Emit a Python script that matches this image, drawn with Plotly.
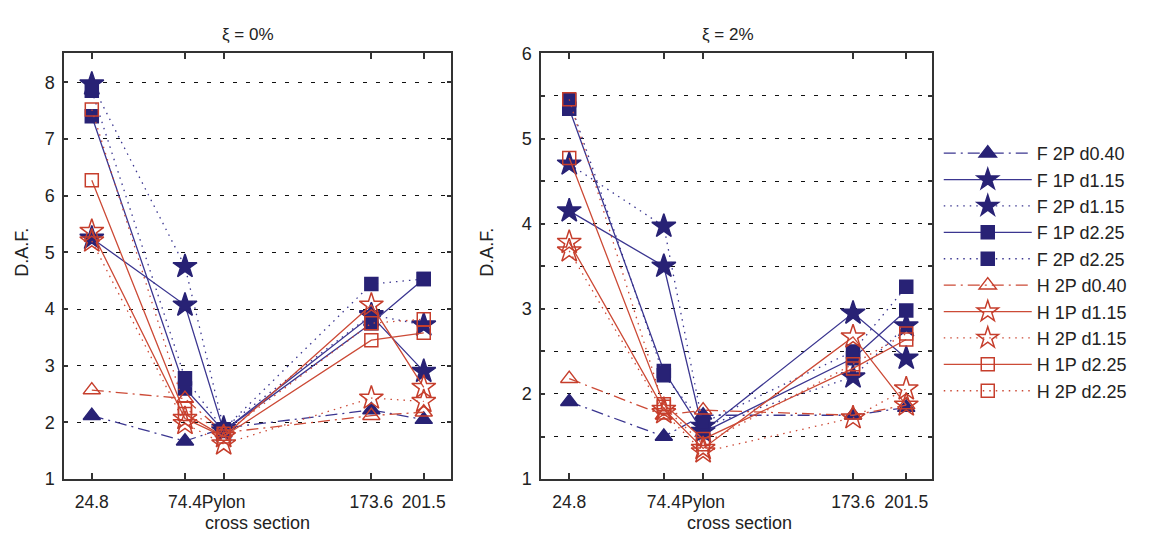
import plotly.graph_objects as go

# ---------------- data ----------------
sections = [24.8, 74.4, 95.0, 173.6, 201.5]
section_labels = ["24.8", "74.4", "Pylon", "173.6", "201.5"]
series_names = ["F 2P d0.40", "F 1P d1.15", "F 2P d1.15", "F 1P d2.25", "F 2P d2.25",
                "H 2P d0.40", "H 1P d1.15", "H 2P d1.15", "H 1P d2.25", "H 2P d2.25"]

# xi = 0 %
xi0_F_2P_d040 = [2.12, 1.67, 1.90, 2.22, 2.05]
xi0_F_1P_d115 = [5.25, 4.07, 1.85, 3.88, 2.90]
xi0_F_2P_d115 = [7.97, 4.75, 1.90, 3.90, 3.72]
xi0_F_1P_d225 = [7.40, 2.60, 1.85, 3.75, 4.53]
xi0_F_2P_d225 = [7.85, 2.78, 1.88, 4.44, 4.53]
xi0_H_2P_d040 = [2.57, 2.42, 1.82, 2.12, 2.18]
xi0_H_1P_d115 = [5.37, 2.07, 1.75, 4.07, 2.62]
xi0_H_2P_d115 = [5.20, 1.98, 1.62, 2.43, 2.37]
xi0_H_1P_d225 = [6.27, 2.15, 1.75, 3.45, 3.58]
xi0_H_2P_d225 = [7.52, 2.25, 1.80, 3.75, 3.82]

# xi = 2 %
xi2_F_2P_d040 = [1.91, 1.50, 1.75, 1.75, 1.84]
xi2_F_1P_d115 = [4.15, 3.50, 1.56, 2.95, 2.42]
xi2_F_2P_d115 = [4.70, 3.97, 1.62, 2.20, 2.80]
xi2_F_1P_d225 = [5.35, 2.27, 1.55, 2.42, 2.98]
xi2_F_2P_d225 = [5.45, 2.22, 1.66, 2.50, 3.26]
xi2_H_2P_d040 = [2.18, 1.75, 1.81, 1.75, 1.87]
xi2_H_1P_d115 = [3.78, 1.82, 1.36, 2.67, 1.87]
xi2_H_2P_d115 = [3.68, 1.78, 1.32, 1.72, 2.06]
xi2_H_1P_d225 = [4.77, 1.88, 1.47, 2.30, 2.64]
xi2_H_2P_d225 = [5.46, 1.85, 1.41, 2.35, 2.71]

xi0_values = [xi0_F_2P_d040, xi0_F_1P_d115, xi0_F_2P_d115, xi0_F_1P_d225, xi0_F_2P_d225,
              xi0_H_2P_d040, xi0_H_1P_d115, xi0_H_2P_d115, xi0_H_1P_d225, xi0_H_2P_d225]
xi2_values = [xi2_F_2P_d040, xi2_F_1P_d115, xi2_F_2P_d115, xi2_F_1P_d225, xi2_F_2P_d225,
              xi2_H_2P_d040, xi2_H_1P_d115, xi2_H_2P_d115, xi2_H_1P_d225, xi2_H_2P_d225]

panel_titles = ["\u03be = 0%", "\u03be = 2%"]

# ---------------- styles ----------------
NAVY = "#282275"
RED = "#c63e2c"
NAVY_LINE = "#3b3690"
RED_LINE = "#cc4a36"
DASHDOT = "12px,5px,2px,5px"
DOT = "1.5px,5px"
styles = [
    (NAVY, NAVY_LINE, DASHDOT, "triangle-up", 15),
    (NAVY, NAVY_LINE, "solid", "star", 18),
    (NAVY, NAVY_LINE, DOT, "star", 18),
    (NAVY, NAVY_LINE, "solid", "square", 13),
    (NAVY, NAVY_LINE, DOT, "square", 13),
    (RED, RED_LINE, DASHDOT, "triangle-up-open", 15),
    (RED, RED_LINE, "solid", "star-open", 18),
    (RED, RED_LINE, DOT, "star-open", 18),
    (RED, RED_LINE, "solid", "square-open", 13),
    (RED, RED_LINE, DOT, "square-open", 13),
]

FONT = "Liberation Sans, Arial, sans-serif"
TOP, BOTTOM = 45, 487
fig = go.Figure()

for panel, values in enumerate([xi0_values, xi2_values]):
    xa = "x" if panel == 0 else "x2"
    ya = "y" if panel == 0 else "y2"
    for name, vals, (col, lcol, dash, sym, size) in zip(series_names, values, styles):
        fig.add_trace(go.Scatter(
            x=sections, y=vals, mode="lines+markers", name=name,
            legendgroup=name, showlegend=(panel == 0),
            xaxis=xa, yaxis=ya,
            line=dict(color=lcol, width=1.3, dash=dash),
            marker=dict(symbol=sym, size=size, color=col,
                        line=dict(color=col, width=1.5)),
        ))

axis_common = dict(
    showline=True, mirror="ticks", linecolor="#333", linewidth=1.5,
    ticks="inside", tickcolor="#333", tickwidth=1.5,
    zeroline=False,
)
xfont = dict(family=FONT, size=17.5, color="#222")
yfont = dict(family=FONT, size=18, color="#222")
grid_style = dict(gridcolor="#111", griddash="4px,9px", gridwidth=1.4)
ydom = [1 - BOTTOM/545, 1 - TOP/545]

fig.update_layout(
    width=1151, height=545,
    margin=dict(l=0, r=0, t=0, b=0),
    paper_bgcolor="white", plot_bgcolor="white",
    showlegend=True,
    legend=dict(x=0.8156, y=0.762, xanchor="left", yanchor="top",
                font=dict(family=FONT, size=18, color="#222"),
                itemwidth=88, tracegroupgap=0, bgcolor="rgba(0,0,0,0)"),
    xaxis=dict(domain=[64/1151, 451/1151], anchor="y", range=[10, 216],
               tickvals=sections, ticktext=section_labels, ticklen=6, tickangle=0,
               tickfont=xfont, ticklabelstandoff=6, showgrid=False, **axis_common),
    yaxis=dict(domain=ydom, anchor="x", range=[1, 8.51],
               tick0=1, dtick=1, ticklen=4, showgrid=True, ticklabelstandoff=4,
               tickfont=yfont, **grid_style, **axis_common),
    xaxis2=dict(domain=[541/1151, 932/1151], anchor="y2", range=[10, 215],
                tickvals=sections, ticktext=section_labels, ticklen=6, tickangle=0,
                tickfont=xfont, ticklabelstandoff=6, showgrid=False, **axis_common),
    yaxis2=dict(domain=ydom, anchor="x2", range=[1, 6],
                tick0=1, dtick=1, ticklen=4, showgrid=True, ticklabelstandoff=4,
                tickfont=yfont,
                minor=dict(dtick=0.5, showgrid=True, ticks="inside", ticklen=4,
                           tickcolor="#333", **grid_style),
                **grid_style, **axis_common),
)

ann = []
for cx, title in zip([248, 728], panel_titles):
    ann.append(dict(x=cx/1151, y=1-25/545, xref="paper", yref="paper", text=title,
                    xanchor="center", yanchor="middle",
                    showarrow=False, font=dict(family=FONT, size=17, color="#222")))
for cx in [257, 739]:
    ann.append(dict(x=cx/1151, y=1-533/545, xref="paper", yref="paper", text="cross section",
                    xanchor="center", yanchor="middle",
                    showarrow=False, font=dict(family=FONT, size=18, color="#222")))
for cx in [22, 487]:
    ann.append(dict(x=cx/1151, y=1-252/545, xref="paper", yref="paper", text="D.A.F.",
                    xanchor="center", yanchor="middle",
                    showarrow=False, textangle=-90,
                    font=dict(family=FONT, size=18, color="#222")))
fig.update_layout(annotations=ann)

fig.write_html("out.html")
